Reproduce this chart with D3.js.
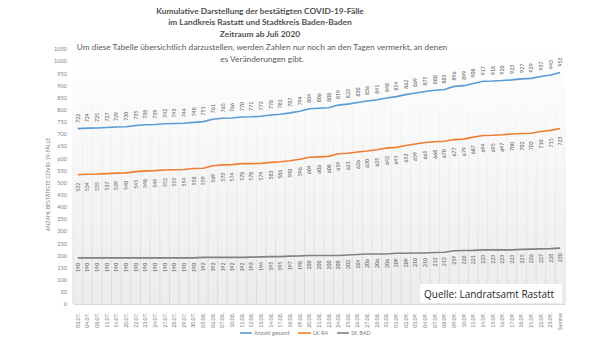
<!DOCTYPE html>
<html><head><meta charset="utf-8">
<script src="https://cdn.jsdelivr.net/npm/d3@7/dist/d3.min.js"></script>
<style>
html,body{margin:0;padding:0;background:#fff;}
svg{display:block;font-family:Lato,"Liberation Sans",sans-serif;}
</style></head><body>
<svg id="c" width="608" height="342"></svg>
<script>
const categories = ["03.07.","04.07.","08.07.","11.07.","14.07.","20.07.","22.07.","23.07.","24.07.","27.07.","28.07.","29.07.","30.07.",
"05.08.","06.08.","07.08.","10.08.","11.08.","12.08.","13.08.","14.08.","17.08.","18.08.","19.08.","20.08.","21.08.","22.08.","24.08.","25.08.","26.08.","27.08.","28.08.","31.08.",
"01.09.","02.09.","03.09.","04.09.","07.09.","08.09.","09.09.","10.09.","11.09.","14.09.","15.09.","16.09.","17.09.","18.09.","21.09.","22.09.","23.09.","Summe"];
const gesamt = [722,724,725,727,729,730,735,738,739,742,743,744,748,751,761,765,766,770,771,773,778,781,787,794,804,806,808,819,823,830,836,841,848,854,862,869,875,880,883,896,899,908,917,918,920,923,927,929,937,943,953];
const lkRA = [532,534,535,537,539,540,545,548,549,552,553,554,558,559,569,573,574,578,578,579,583,586,590,596,604,606,608,619,621,626,630,635,642,645,653,659,665,668,670,677,679,687,694,695,697,700,702,703,710,715,723];
const skBAD = [190,190,190,190,190,190,190,190,190,190,190,190,190,192,192,192,192,192,193,194,195,195,197,198,200,200,200,200,202,204,206,206,206,209,209,210,210,212,213,219,220,221,223,223,223,223,225,226,227,228,230];
const yTicks = d3.range(0,1051,50);
const seriesNames = ["Anzahl gesamt","LK RA","SK BAD"];
const colors = ["#5B9BD5","#ED7D31","#808080"];
const titleLines = ["Kumulative Darstellung der bestätigten COVID-19-Fälle","im Landkreis Rastatt und Stadtkreis Baden-Baden","Zeitraum ab Juli  2020"];
const subLines = ["Um diese Tabelle übersichtlich darzustellen, werden Zahlen nur noch an den Tagen vermerkt, an denen","es Veränderungen gibt."];

const svg = d3.select("#c");
const L=73, R=565, T=49, B=304;
const x = d3.scaleBand().domain(categories).range([L,R]).padding(0);
const y = d3.scaleLinear().domain([0,1050]).range([B,T]);
const cx = c => x(c)+x.bandwidth()/2;

const defs = svg.append("defs");
const bg = defs.append("linearGradient").attr("id","bg").attr("x1",0).attr("y1",0).attr("x2",0).attr("y2",1);
bg.append("stop").attr("offset","0%").attr("stop-color","#ffffff");
bg.append("stop").attr("offset","100%").attr("stop-color","#ececec");
const gl = defs.append("linearGradient").attr("id","gl").attr("gradientUnits","userSpaceOnUse").attr("x1",0).attr("y1",T).attr("x2",0).attr("y2",B);
gl.append("stop").attr("offset","0%").attr("stop-color","#ffffff");
gl.append("stop").attr("offset","100%").attr("stop-color","#d4d4d4");

svg.append("rect").attr("x",L).attr("y",T).attr("width",R-L).attr("height",B-T).attr("fill","url(#bg)");
svg.append("g").selectAll("line").data(categories.concat([null])).join("line")
  .attr("x1",(d,i)=>L+i*x.bandwidth()).attr("x2",(d,i)=>L+i*x.bandwidth())
  .attr("y1",T).attr("y2",B).attr("stroke","url(#gl)").attr("stroke-width",0.8);

// title
svg.append("g").selectAll("text").data(titleLines).join("text")
  .attr("x",260).attr("y",(d,i)=>14+i*11.3).attr("text-anchor","middle")
  .attr("font-size",8.4).attr("font-weight","bold").attr("fill","#505050").text(d=>d);
svg.append("rect").attr("x",80).attr("y",40).attr("width",360).attr("height",22).attr("fill","#fff");
svg.append("g").selectAll("text").data(subLines).join("text")
  .attr("x",262).attr("y",(d,i)=>50+i*11.5).attr("text-anchor","middle")
  .attr("font-size",8.3).attr("fill","#595959").text(d=>d);

// y axis
const ya = svg.append("g").attr("transform",`translate(${L},0)`)
  .call(d3.axisLeft(y).tickValues(yTicks).tickFormat(d3.format("d")).tickSize(0).tickPadding(6));
ya.select(".domain").remove();
ya.selectAll("text").attr("font-size",5.6).attr("fill","#7f7f7f").attr("font-family","Lato,sans-serif");

svg.append("text").attr("transform",`translate(50,${(T+B)/2+8}) rotate(-90)`)
  .attr("text-anchor","middle").attr("font-size",5.2).attr("fill","#7f7f7f")
  .text("ANZAHL BESTÄTIGTE COVID-19-FÄLLE");

// x axis
const xa = svg.append("g").attr("transform",`translate(0,${B})`)
  .call(d3.axisBottom(x).tickSize(0));
xa.select(".domain").attr("stroke","#d9d9d9");
xa.selectAll("text").attr("transform","rotate(-90)").attr("x",-9).attr("y",0).attr("dy","0.35em")
  .style("text-anchor","end").attr("font-size",5.3).attr("fill","#7f7f7f").attr("font-family","Lato,sans-serif");

// series
const series = [gesamt,lkRA,skBAD];
const labelOff = [-6,8,5];
series.forEach((vals,si)=>{
  const pts = vals.map((v,i)=>[cx(categories[i]),y(v)]);
  svg.append("path").attr("d",d3.line()(pts)).attr("fill","none")
    .attr("stroke",colors[si]).attr("stroke-width",1.6);
  svg.append("g").selectAll("text").data(vals).join("text")
    .attr("transform",(v,i)=>`translate(${cx(categories[i])},${y(v)+labelOff[si]}) rotate(-90)`)
    .attr("text-anchor",labelOff[si]<0?"start":"end").attr("dominant-baseline","central")
    .attr("font-size",5.2).attr("fill","#595959").text(v=>v);
});

// source box
svg.append("rect").attr("x",420).attr("y",284).attr("width",142).attr("height",19).attr("fill","#fff");
svg.append("text").attr("x",424).attr("y",298).attr("font-size",10).attr("fill","#262626")
  .attr("font-family","'Open Sans',sans-serif").text("Quelle: Landratsamt Rastatt");

// legend
const lg = [[240,254],[298,313],[337,351]];
seriesNames.forEach((n,i)=>{
  svg.append("line").attr("x1",lg[i][0]).attr("x2",lg[i][1]-2).attr("y1",333).attr("y2",333)
    .attr("stroke",colors[i]).attr("stroke-width",1.6);
  svg.append("text").attr("x",lg[i][1]).attr("y",335).attr("font-size",5.6).attr("fill","#7f7f7f").text(n);
});
</script>
</body></html>
